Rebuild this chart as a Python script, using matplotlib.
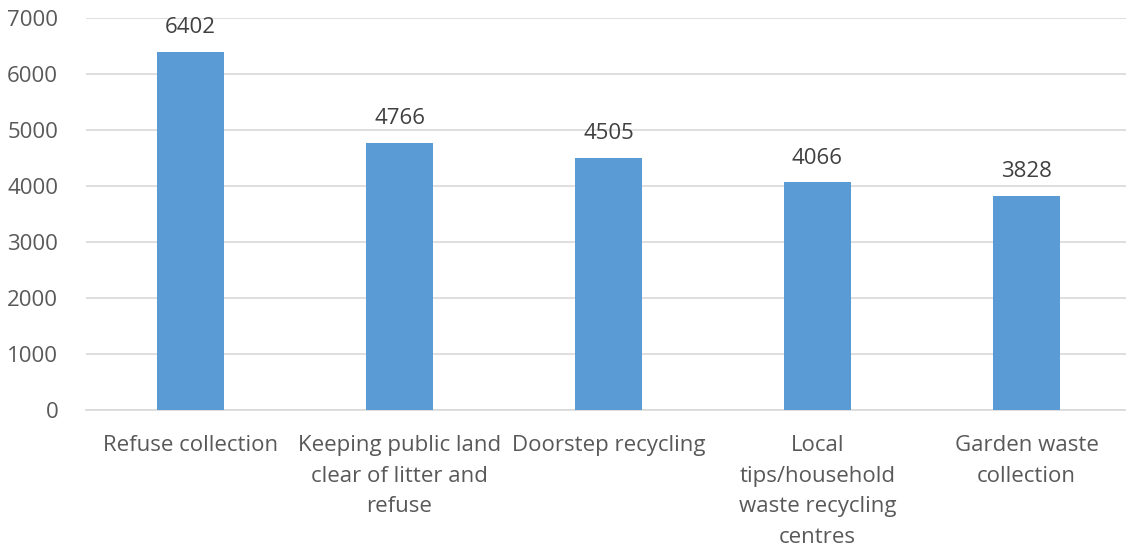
import matplotlib.pyplot as plt

# data
categories = ["Refuse collection",
              "Keeping public land\nclear of litter and\nrefuse",
              "Doorstep recycling",
              "Local\ntips/household\nwaste recycling\ncentres",
              "Garden waste\ncollection"]
values = [6402, 4766, 4505, 4066, 3828]
yticks = [0, 1000, 2000, 3000, 4000, 5000, 6000, 7000]

plt.rcParams['font.family'] = ['Open Sans', 'DejaVu Sans']

fig = plt.figure(figsize=(11.26, 5.49), dpi=100)
ax = fig.add_axes([0.0764, 0.253, 0.928, 0.714])

bars = ax.bar(range(len(values)), values, width=0.32, color="#5B9BD5", zorder=3)

# value labels above bars
for b, v in zip(bars, values):
    ax.annotate(str(v), (b.get_x() + b.get_width() / 2, v), xytext=(0, 10),
                textcoords="offset points", ha="center", va="bottom",
                fontsize=16, color="#404040")

ax.set_xlim(-0.5, len(values) - 0.5)
ax.set_ylim(0, 7000)
ax.set_yticks(yticks)
ax.set_xticks(range(len(values)))
ax.set_xticklabels(categories, linespacing=1.6)
ax.tick_params(axis="both", length=0, labelsize=16, labelcolor="#595959")
ax.tick_params(axis="x", pad=18)
ax.tick_params(axis="y", pad=20)

ax.grid(axis="y", color="#D9D9D9", linewidth=1.2, zorder=0)
for s in ["top", "right", "left"]:
    ax.spines[s].set_visible(False)
ax.spines["bottom"].set_color("#D9D9D9")
ax.spines["bottom"].set_linewidth(1.2)

fig.savefig("out.png", dpi=100)
